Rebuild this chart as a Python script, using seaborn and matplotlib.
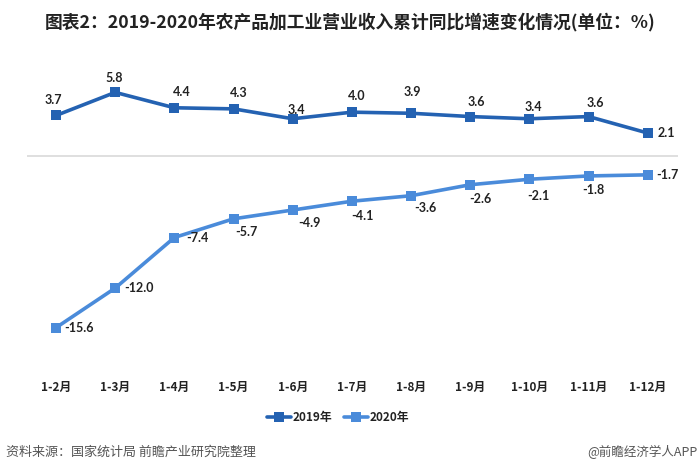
import matplotlib
matplotlib.use('Agg')
import matplotlib.pyplot as plt
import seaborn as sns
import pandas as pd

# data
months = ['1-2月', '1-3月', '1-4月', '1-5月', '1-6月', '1-7月',
          '1-8月', '1-9月', '1-10月', '1-11月', '1-12月']
growth_2019 = [3.7, 5.8, 4.4, 4.3, 3.4, 4.0, 3.9, 3.6, 3.4, 3.6, 2.1]
growth_2020 = [-15.6, -12.0, -7.4, -5.7, -4.9, -4.1, -3.6, -2.6, -2.1, -1.8, -1.7]
series_names = ['2019年', '2020年']

# label offsets (pixels) relative to each point
off_2019 = [(-3, 15), (-1, 14), (7, 16), (5, 16), (4, 9), (5, 16),
            (1, 21), (6, 15), (4, 12), (7, 14), (19, 0)]
off_2020 = [(23, 0), (24, 0), (23, 0), (13, -13), (17, -13), (11, -15),
            (14, -12), (10, -14), (9, -17), (5, -14), (20, 0)]

sns.set_style('white')
plt.rcParams['font.family'] = ['Noto Sans CJK SC', 'DejaVu Sans']

df = pd.DataFrame({
    'month': months * 2,
    'idx': list(range(len(months))) * 2,
    'value': growth_2019 + growth_2020,
    'year': [series_names[0]] * len(months) + [series_names[1]] * len(months),
})

palette = {'2019年': '#2462B2', '2020年': '#4A8BDA'}

fig = plt.figure(figsize=(7, 4.73), dpi=100)
ax = fig.add_axes([0.0386, 0.2178, 0.93, 0.655])

ax.axhline(0, color='#d9d9d9', linewidth=1.2, zorder=1)

sns.lineplot(data=df, x='idx', y='value', hue='year', palette=palette,
             style='year', markers={'2019年': 's', '2020年': 's'}, dashes=False,
             linewidth=2.6, markersize=6.5, markeredgewidth=0,
             legend='full', ax=ax, zorder=3)

for vals, offs in ((growth_2019, off_2019), (growth_2020, off_2020)):
    for i, (v, o) in enumerate(zip(vals, offs)):
        ax.annotate(f'{v:.1f}', (i, v), xytext=o, textcoords='offset pixels',
                    ha='center', va='center', fontsize=9, fontweight='bold',
                    color='#222222', family=['Lato', 'DejaVu Sans'])

ax.set_xlim(-0.49, 10.51)
ax.set_ylim(-19.45, 8.73)
ax.set_xticks(range(len(months)))
ax.set_xticklabels(months, fontsize=8.5, fontweight='bold', color='#222222')
ax.tick_params(axis='x', length=0, pad=8)
ax.set_yticks([])
ax.set_xlabel('')
ax.set_ylabel('')
sns.despine(ax=ax, left=True, bottom=True)

handles, labels = ax.get_legend_handles_labels()
ax.get_legend().remove()
leg = fig.legend(handles, labels, loc='center', bbox_to_anchor=(0.483, 0.118),
                 ncol=2, frameon=False, fontsize=8.5, handlelength=2.0,
                 columnspacing=1.0, handletextpad=0.15)
for t in leg.get_texts():
    t.set_fontweight('bold')
    t.set_color('#222222')

fig.text(0.5, 1 - 22 / 473, '图表2：2019-2020年农产品加工业营业收入累计同比增速变化情况(单位：%)',
         ha='center', va='center', fontsize=12.8, fontweight='bold', color='#222222')
fig.text(6 / 700, 1 - 452 / 473, '资料来源：国家统计局 前瞻产业研究院整理',
         ha='left', va='center', fontsize=9.4, color='#555555')
fig.text(698 / 700, 1 - 452 / 473, '@前瞻经济学人APP',
         ha='right', va='center', fontsize=9, color='#555555')

fig.savefig('out.png', dpi=100)
